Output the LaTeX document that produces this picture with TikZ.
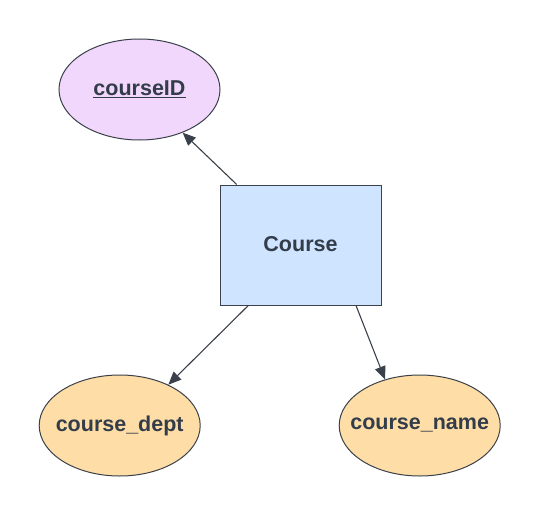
\documentclass[tikz,border=0pt]{standalone}
\usepackage{fontspec}
\setmainfont{Liberation Sans}
\usetikzlibrary{shapes.geometric,arrows.meta}
\definecolor{edgecol}{HTML}{3A414A}
\definecolor{txtcol}{HTML}{333D4A}
\definecolor{keyfill}{HTML}{F2D7FC}
\definecolor{entfill}{HTML}{CFE4FF}
\definecolor{attfill}{HTML}{FFDDA6}
\newcommand{\zw}[1]{\makebox[0pt]{\raisebox{2.5pt}{#1}}}
\tikzset{
  base/.style={draw=edgecol, line width=1pt, text=txtcol, font=\fontsize{21.5}{24}\selectfont\bfseries, inner sep=0pt},
  entity/.style={base, rectangle, fill=entfill, minimum width=161pt, minimum height=120pt},
  attr/.style={base, ellipse, fill=attfill, minimum width=161pt, minimum height=101pt},
  keyattr/.style={attr, fill=keyfill},
  link/.style={draw=edgecol, line width=1.1pt, -{Triangle[length=13pt,width=11pt]}}
}
\begin{document}
\begin{tikzpicture}[x=1pt,y=-1pt]
\useasboundingbox (0,0) rectangle (540,516);
\node[entity] (course) at (300.5,245) {\zw{Course}};
\node[keyattr] (cid) at (139.5,89.5) {\zw{\underline{courseID}}};
\node[attr] (dept) at (119.7,425.5) {\zw{course\_dept}};
\node[attr] (cname) at (419.7,425.5) {\zw{course\_name}};
\draw[link] ([xshift=-63.8pt]course.north) -- (cid.-45);
\draw[link] ([xshift=-52.2pt]course.south) -- (dept.40);
\draw[link] ([xshift=55.5pt]course.south) -- (cname.127);
\end{tikzpicture}
\end{document}
